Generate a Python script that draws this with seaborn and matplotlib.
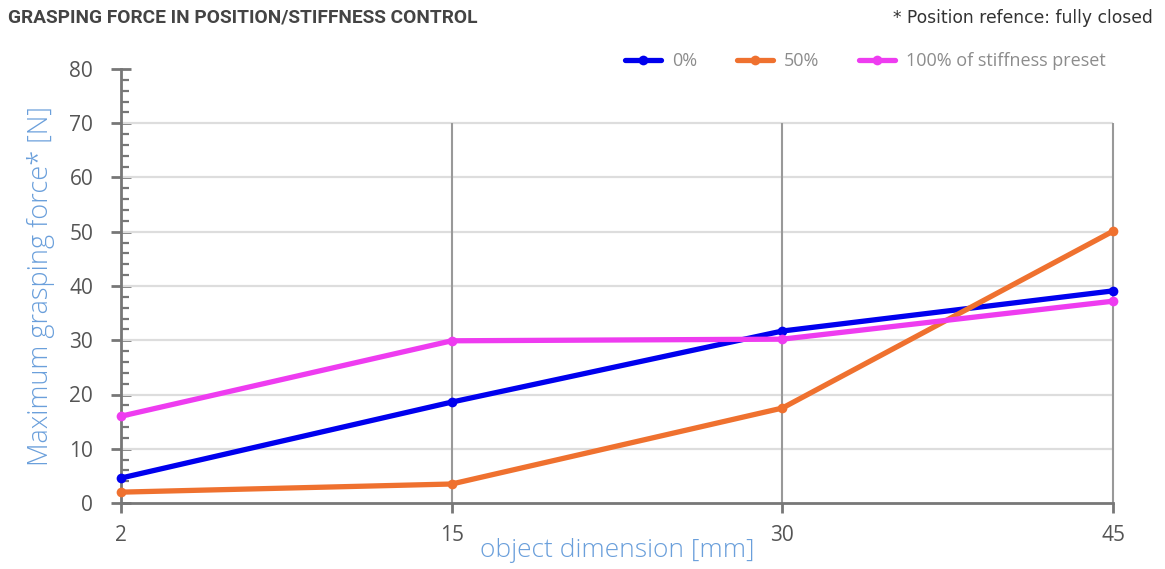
import matplotlib
matplotlib.use("Agg")
import matplotlib.pyplot as plt
from matplotlib.ticker import MultipleLocator
import pandas as pd
import seaborn as sns

# Object sizes tested (mm) and the maximum grasping force measured (N)
dimensions = ["2", "15", "30", "45"]
force_0 = [4.6, 18.6, 31.7, 39.1]
force_50 = [2.0, 3.5, 17.5, 50.1]
force_100 = [16.0, 29.9, 30.2, 37.2]
series_names = ["0%", "50%", "100% of stiffness preset"]
series_colors = ["#0000ee", "#ef712f", "#ee3cf0"]
y_ticks = [0, 10, 20, 30, 40, 50, 60, 70, 80]

rows = []
for name, vals in zip(series_names, [force_0, force_50, force_100]):
    for d, v in zip(dimensions, vals):
        rows.append({"dimension": d, "force": v, "series": name})
df = pd.DataFrame(rows)

sns.set_theme(style="white")
plt.rcParams["font.family"] = ["Open Sans", "DejaVu Sans"]

fig = plt.figure(figsize=(11.65, 5.69), dpi=100)
ax = fig.add_axes([121 / 1165, 1 - 503 / 569, (1113 - 121) / 1165, (503 - 69) / 569])

sns.lineplot(
    data=df, x="dimension", y="force", hue="series",
    palette=dict(zip(series_names, series_colors)),
    hue_order=series_names, sort=False,
    linewidth=3.8, marker="o", markersize=7, markeredgewidth=0,
    ax=ax, zorder=3, clip_on=False,
)

ax.set_xlim(0, len(dimensions) - 1)
ax.set_ylim(0, 80)
ax.set_yticks(y_ticks)
ax.yaxis.set_minor_locator(MultipleLocator(2))

# Grid: light horizontal lines, darker vertical lines at categories (up to 70)
ax.hlines(y_ticks[1:-1], 0, len(dimensions) - 1, color="#dddddd", linewidth=1.6, zorder=1)
ax.vlines(range(1, len(dimensions)), 0, y_ticks[-2], color="#999999", linewidth=1.5,
          zorder=1, clip_on=False)

for side in ["top", "right"]:
    ax.spines[side].set_visible(False)
for side in ["left", "bottom"]:
    ax.spines[side].set_color("#777777")
    ax.spines[side].set_linewidth(2)
    ax.spines[side].set_zorder(2)

ax.tick_params(axis="y", which="major", direction="inout", length=14, width=2,
               color="#777777", labelsize=15, labelcolor="#555555", pad=13, left=True)
ax.tick_params(axis="y", which="minor", direction="in", length=6, width=1.6,
               color="#777777", left=True)
ax.tick_params(axis="x", which="major", direction="out", length=7, width=2,
               color="#777777", labelsize=15, labelcolor="#555555", pad=9, bottom=True)

ax.set_xlabel("object dimension [mm]", fontsize=19, color="#6a9fdb",
              fontweight="light", labelpad=-6)
ax.set_ylabel("Maximum grasping force* [N]", fontsize=19.5, color="#6a9fdb",
              fontweight="light", labelpad=10)

handles, labels = ax.get_legend_handles_labels()
leg = ax.legend(handles, labels, ncol=3, frameon=False, loc="lower right",
                bbox_to_anchor=(1.0, 0.98), fontsize=13, handlelength=2.0,
                columnspacing=2.2, handletextpad=0.6, borderaxespad=0)
for t in leg.get_texts():
    t.set_color("#8c8c8c")

fig.text(8 / 1165, 1 - 18 / 569, "GRASPING FORCE IN POSITION/STIFFNESS CONTROL",
         fontsize=13.8, fontweight="bold", color="#444444", va="center", ha="left",
         family=["Roboto", "DejaVu Sans"])
fig.text(1153 / 1165, 1 - 18 / 569, "* Position refence: fully closed",
         fontsize=12.3, color="#333333", va="center", ha="right",
         family=["DejaVu Sans"])

fig.savefig("out.png", dpi=100, facecolor="white")
